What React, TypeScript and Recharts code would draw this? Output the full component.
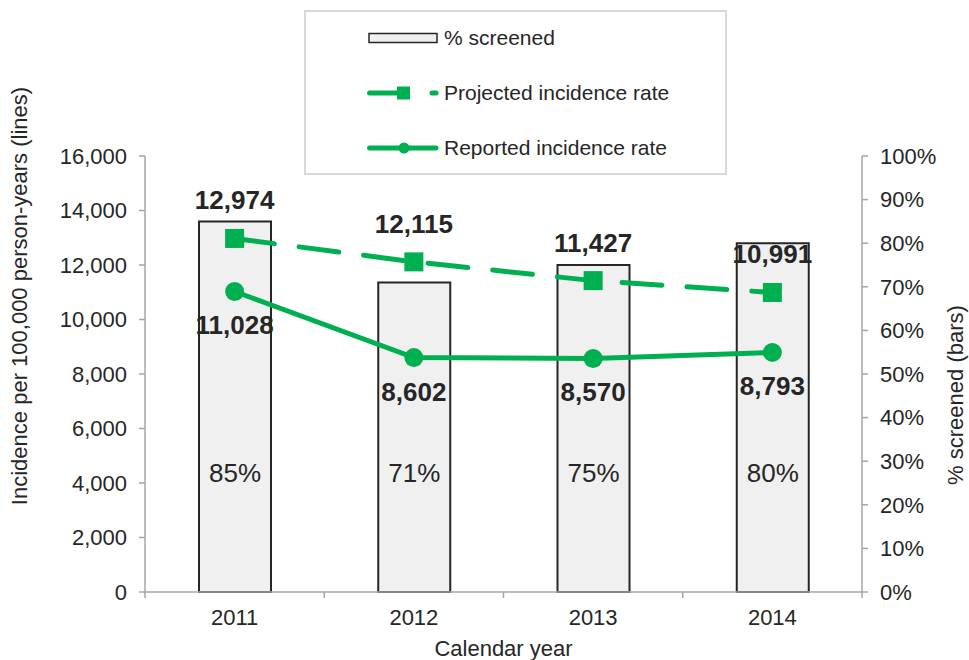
import React from 'react';
import { ComposedChart, Bar, Line, XAxis, YAxis, Legend, LabelList, Label } from 'recharts';

const years = ['2011', '2012', '2013', '2014'];
const screened = [85, 71, 75, 80];
const projected = [12974, 12115, 11427, 10991];
const reported = [11028, 8602, 8570, 8793];

const leftTicks = [0, 2000, 4000, 6000, 8000, 10000, 12000, 14000, 16000];
const rightTicks = [0, 10, 20, 30, 40, 50, 60, 70, 80, 90, 100];

const W = 969;
const H = 660;
const LEFT_W = 145;
const RIGHT_W = 107;
const TOP = 156;
const X_H = 68;
const HALF_BAND = (W - LEFT_W - RIGHT_W) / years.length / 2;

const GREEN = '#00b050';
const TEXT = '#262626';
const AXIS = '#a6a6a6';
const FONT = '"Liberation Sans", Arial, sans-serif';

const data = years.map((year, i) => ({
  year,
  screened: screened[i],
  projected: projected[i],
  reported: reported[i],
}));

const fmt = (v: number) => v.toLocaleString('en-US');

const SquareDot = (props: any) => {
  const { cx, cy } = props;
  if (cx == null || cy == null) return null;
  return <rect x={cx - 9.5} y={cy - 9.5} width={19} height={19} fill={GREEN} />;
};

const CircleDot = (props: any) => {
  const { cx, cy } = props;
  if (cx == null || cy == null) return null;
  return <circle cx={cx} cy={cy} r={9.5} fill={GREEN} />;
};

// category axis: labels centred, tick marks on the band edges
const XTick = (props: any) => {
  const { x, y, payload, index } = props;
  const axisY = y - 17;
  const last = index === years.length - 1;
  return (
    <g>
      <line x1={x - HALF_BAND} x2={x - HALF_BAND} y1={axisY} y2={axisY + 6} stroke={AXIS} strokeWidth={1.5} />
      {last && (
        <line x1={x + HALF_BAND} x2={x + HALF_BAND} y1={axisY} y2={axisY + 6} stroke={AXIS} strokeWidth={1.5} />
      )}
      <text x={x} y={y} dy="0.71em" textAnchor="middle" fill={TEXT} fontSize={22} fontFamily={FONT}>
        {payload.value}
      </text>
    </g>
  );
};

const PctLabel = (props: any) => {
  const { x, y, width, height, value } = props;
  return (
    <text x={x + width / 2} y={y + height - 119} textAnchor="middle" dominantBaseline="central" fill={TEXT} fontSize={26} fontFamily={FONT}>
      {value}%
    </text>
  );
};

const ValueLabel = (above: boolean) => (props: any) => {
  const { x, y, value } = props;
  return (
    <text x={x} y={above ? y - 38 : y + 34} textAnchor="middle" dominantBaseline="central" fill={TEXT} fontSize={26} fontWeight="bold" fontFamily={FONT}>
      {fmt(value)}
    </text>
  );
};

const legendOrder = ['screened', 'projected', 'reported'];

const LegendIcon = ({ k }: { k: string }) => {
  if (k === 'screened') {
    return <rect x={2} y={5.5} width={68} height={9} fill="#f0f0f0" stroke={TEXT} strokeWidth={1.5} />;
  }
  if (k === 'projected') {
    return (
      <g>
        <line x1={2.5} x2={40} y1={10} y2={10} stroke={GREEN} strokeWidth={5} strokeLinecap="round" />
        <rect x={30} y={3.5} width={13} height={13} fill={GREEN} />
        <line x1={65} x2={69} y1={10} y2={10} stroke={GREEN} strokeWidth={5} strokeLinecap="round" />
      </g>
    );
  }
  return (
    <g>
      <line x1={2.5} x2={69} y1={10} y2={10} stroke={GREEN} strokeWidth={5} strokeLinecap="round" />
      <circle cx={37} cy={10} r={5.5} fill={GREEN} />
    </g>
  );
};

const LegendBox = (props: any) => {
  const items = [...(props.payload || [])].sort(
    (a: any, b: any) => legendOrder.indexOf(a.dataKey) - legendOrder.indexOf(b.dataKey)
  );
  return (
    <div style={{ width: 423, height: 165, boxSizing: 'border-box', border: '2px solid #d9d9d9', background: '#fff', position: 'relative' }}>
      {items.map((entry: any, i: number) => (
        <div key={entry.dataKey} style={{ position: 'absolute', left: 61, top: 16 + i * 55, height: 20, display: 'flex', alignItems: 'center' }}>
          <svg width={72} height={20}>
            <LegendIcon k={entry.dataKey} />
          </svg>
          <span style={{ marginLeft: 5, fontSize: 21, color: TEXT, fontFamily: FONT, whiteSpace: 'nowrap' }}>{entry.value}</span>
        </div>
      ))}
    </div>
  );
};

const AxisTitle = (side: 'left' | 'right' | 'bottom') => (props: any) => {
  const vb = props.viewBox;
  if (side === 'bottom') {
    return (
      <text x={vb.x + vb.width / 2} y={vb.y + 64} textAnchor="middle" fill={TEXT} fontSize={22} fontFamily={FONT}>
        Calendar year
      </text>
    );
  }
  const cx = side === 'left' ? vb.x + 19 : vb.x + vb.width - 14;
  const cy = vb.y + vb.height / 2 + (side === 'left' ? -78 : 21);
  return (
    <text x={cx} y={cy} transform={`rotate(-90 ${cx} ${cy})`} textAnchor="middle" dominantBaseline="central" fill={TEXT} fontSize={22} fontFamily={FONT}>
      {side === 'left' ? 'Incidence per 100,000 person-years (lines)' : '% screened (bars)'}
    </text>
  );
};

export default function App() {
  return (
    <div style={{ position: 'absolute', left: 0, top: 0, width: W, height: H, background: '#fff', fontFamily: FONT }}>
      <ComposedChart width={W} height={H} data={data} margin={{ top: TOP, right: 0, bottom: 0, left: 0 }}>
        <XAxis
          dataKey="year"
          height={X_H}
          stroke={AXIS}
          strokeWidth={1.5}
          tickLine={false}
          tickSize={6}
          tickMargin={11}
          tick={<XTick />}
          interval={0}
        >
          <Label content={AxisTitle('bottom')} />
        </XAxis>
        <YAxis
          yAxisId="left"
          width={LEFT_W}
          domain={[0, 16000]}
          ticks={leftTicks}
          tickFormatter={fmt}
          stroke={AXIS}
          strokeWidth={1.5}
          tickSize={6}
          tickMargin={12}
          tick={{ fill: TEXT, fontSize: 22, fontFamily: FONT }}
          interval={0}
        >
          <Label content={AxisTitle('left')} />
        </YAxis>
        <YAxis
          yAxisId="right"
          orientation="right"
          width={RIGHT_W}
          domain={[0, 100]}
          ticks={rightTicks}
          tickFormatter={(v: number) => `${v}%`}
          stroke={AXIS}
          strokeWidth={1.5}
          tickSize={6}
          tickMargin={12}
          tick={{ fill: TEXT, fontSize: 22, fontFamily: FONT, textAnchor: 'start' }}
          interval={0}
        >
          <Label content={AxisTitle('right')} />
        </YAxis>
        <Legend
          layout="vertical"
          align="center"
          verticalAlign="middle"
          content={<LegendBox />}
          wrapperStyle={{ position: 'absolute', left: 304, top: 10, width: 423, height: 165 }}
        />
        <Bar
          yAxisId="right"
          dataKey="screened"
          name="% screened"
          barSize={72}
          fill="#f0f0f0"
          stroke={TEXT}
          strokeWidth={2}
          isAnimationActive={false}
        >
          <LabelList dataKey="screened" content={PctLabel} />
        </Bar>
        <Line
          yAxisId="left"
          dataKey="projected"
          name="Projected incidence rate"
          stroke={GREEN}
          strokeWidth={5}
          strokeDasharray="40 25"
          strokeLinecap="round"
          dot={<SquareDot />}
          activeDot={false}
          isAnimationActive={false}
        >
          <LabelList dataKey="projected" content={ValueLabel(true)} />
        </Line>
        <Line
          yAxisId="left"
          dataKey="reported"
          name="Reported incidence rate"
          stroke={GREEN}
          strokeWidth={5}
          strokeLinecap="round"
          dot={<CircleDot />}
          activeDot={false}
          isAnimationActive={false}
        >
          <LabelList dataKey="reported" content={ValueLabel(false)} />
        </Line>
      </ComposedChart>
    </div>
  );
}
